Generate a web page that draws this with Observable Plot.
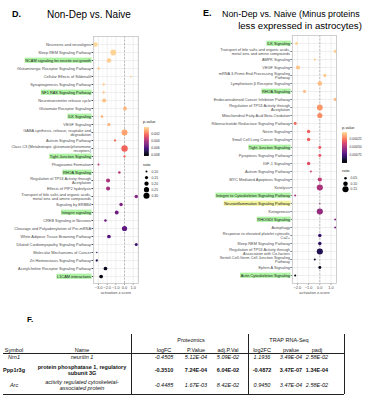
<!DOCTYPE html>
<html><head><meta charset="utf-8">
<script src="https://cdn.jsdelivr.net/npm/d3@7"></script>
<script src="https://cdn.jsdelivr.net/npm/@observablehq/plot@0.6"></script>
<style>
html,body{margin:0;padding:0;background:#fff;}
#fig{position:relative;width:365px;height:400px;overflow:hidden;font-family:"Liberation Sans",Arial,sans-serif;color:#000;}
.abs{position:absolute;white-space:nowrap;line-height:1;}
.cell{position:absolute;white-space:nowrap;transform:translate(-50%,-50%);text-align:center;line-height:1.15;font-family:"Liberation Sans",Arial,sans-serif;font-size:5.5px;color:#111;}
.lg{position:absolute;white-space:nowrap;font-size:3.8px;color:#222;line-height:1;}
</style></head><body><div id="fig"></div>
<script>
// ---------- Panel D data ----------
const leftLabels = [
  "Neurexins and neuroligins","Sleep REM Signaling Pathway","NCAM signaling for neurite out growth",
  "Glutaminergic Receptor Signaling Pathway","Cellular Effects of Sildenafil","Synaptogenesis Signaling Pathway",
  "NF1 RAS Signaling Pathway","Neurotransmitter release cycle","Glutamate Receptor Signaling","ILK Signaling",
  "VEGF Signaling","GABA synthesis, release, reuptake and\ndegradation","Autism Signaling Pathway",
  "Class C3 (Metabotropic glutamate/pheromone\nreceptors)","Tight Junction Signaling","Phagosome Formation",
  "RHOA Signaling","Regulation of TP53 Activity through\nAcetylation","Effects of PIP2 hydrolysis",
  "Transport of bile salts and organic acids,\nmetal ions and amine compounds","Signaling by ERBB4",
  "Integrin signaling","CREB Signaling in Neurons","Cleavage and Polyadenylation of Pre-mRNA",
  "White Adipose Tissue Browning Pathway","Dilated Cardiomyopathy Signaling Pathway",
  "Molecular Mechanisms of Cancer","Zn Homeostasis Signaling Pathway",
  "Acetylcholine Receptor Signaling Pathway","L1CAM interactions"];
const leftZ = [-3.35,-1.3,-1.8,-3.0,0.75,-2.4,-2.4,-2.35,0.05,-2.6,-1.8,0,-1.1,0,0,-3.0,-0.6,-1.9,-1.9,1.35,-0.4,-0.9,-2.2,0,-1.8,1.35,-3.2,-3.2,-2.2,-2.7];
const leftRatio = [0.22,0.28,0.21,0.12,0.09,0.11,0.11,0.19,0.18,0.12,0.15,0.29,0.11,0.32,0.11,0.1,0.12,0.19,0.19,0.16,0.16,0.18,0.12,0.25,0.17,0.14,0.08,0.11,0.17,0.17];
const leftP = [0.0003,0.0004,0.0005,0.0005,0.0006,0.0006,0.0007,0.0007,0.0009,0.001,0.001,0.0013,0.0022,0.0024,0.0025,0.0038,0.004,0.0042,0.0043,0.005,0.0052,0.0055,0.0056,0.0058,0.006,0.0065,0.0068,0.007,0.0078,0.008];
const leftGreen = ["NCAM signaling for neurite out growth","NF1 RAS Signaling Pathway","ILK Signaling","Tight Junction Signaling","RHOA Signaling","Integrin signaling","L1CAM interactions"];
const leftTicks = [-3,-2,-1,0,1];
const leftMinor = [-3.5,-2.5,-1.5,-0.5,0.5,1.5];
const leftPTicks = [0.002,0.004,0.006,0.008];
const leftRatioKeys = [0.10,0.15,0.20,0.25,0.30];

// ---------- Panel E data ----------
const rightLabels = [
  "ILK Signaling","Transport of bile salts and organic acids,\nmetal ions and amine compounds","AMPK Signaling",
  "VEGF Signaling","mRNA 3-Prime End Processing Signaling\nPathway","Lymphotoxin \u03b2 Receptor Signaling",
  "RHOA Signaling","Endocannabinoid Cancer Inhibition Pathway","Regulation of TP53 Activity through\nAcetylation",
  "Mitochondrial Fatty Acid Beta-Oxidation","Ribonucleotide Reductase Signaling Pathway","Netrin Signaling",
  "Small Cell Lung Cancer Signaling","Tight Junction Signaling","Pyroptosis Signaling Pathway","IGF-1 Signaling",
  "Autism Signaling Pathway","MYC Mediated Apoptosis Signaling","Ketolysis",
  "Integrin to Cytoskeleton Signaling Pathway","Neuroinflammation Signaling Pathway","Ketogenesis",
  "RHOGDI Signaling","Autophagy","Response to elevated platelet cytosolic\nCa2+","Sleep REM Signaling Pathway",
  "Regulation of TP53 Activity through\nAssociation with Co-factors","Sertoli Cell-Germ Cell Junction Signaling\nPathway",
  "Ephrin A Signaling","Actin Cytoskeleton Signaling"];
const rightZ = [-2.08,1.37,-0.45,-1.95,0.45,0,-1.37,1.37,0,0,-2.2,-1.0,-1.0,0,0,-1.0,-0.8,0,0,-2.2,0,0,1.37,1.37,0,0,0,-0.45,0,-2.2];
const rightRatio = [0.06,0.06,0.04,0.09,0.06,0.1,0.06,0.06,0.14,0.12,0.06,0.07,0.07,0.06,0.06,0.07,0.04,0.09,0.15,0.04,0.03,0.15,0.04,0.04,0.07,0.07,0.15,0.04,0.06,0.04];
const rightP = [0.00004,0.00005,0.00006,0.00007,0.00008,0.00009,0.0001,0.00011,0.00018,0.0002,0.00028,0.0003,0.0003,0.00032,0.00033,0.00036,0.0004,0.00045,0.0005,0.00052,0.00054,0.00056,0.0006,0.00062,0.0008,0.00082,0.00085,0.0009,0.00095,0.001];
const rightGreen = ["ILK Signaling","RHOA Signaling","Tight Junction Signaling","Integrin to Cytoskeleton Signaling Pathway","RHOGDI Signaling","Actin Cytoskeleton Signaling"];
const rightYellow = ["Neuroinflammation Signaling Pathway"];
const rightTicks = [-2,-1,0,1];
const rightMinor = [-2.5,-1.5,-0.5,0.5,1.5];
const rightPTicks = [0.00025,0.0005,0.00075];
const rightRatioKeys = [0.05,0.10,0.15];

// ---------- Panel F table data ----------
const tSymbols = ["Nrn1","Ppp1r3g","Arc"];
const tNames = ["neuritin 1","protein phosphatase 1, regulatory\nsubunit 3G","activity regulated cytoskeletal-\nassociated protein"];
const tLogFC = [-0.4505,-0.3510,-0.4485];
const tPValue = [5.12e-4,7.24e-4,1.67e-3];
const tAdjP = [5.09e-2,6.04e-2,8.42e-2];
const tLog2FC = [1.1936,-0.4872,0.9450];
const tPvalue2 = [3.49e-4,3.47e-7,3.47e-4];
const tPadj = [2.58e-2,1.34e-4,2.58e-2];
const tHeaders = ["Symbol","Name","logFC","P.Value","adj.P.Val","log2FC","pvalue","padj"];
const tStyles = ["italic","bold","italic"];

const fig = document.getElementById("fig");
const FONT = "'Liberation Sans', Arial, sans-serif";

function addDiv(cls, text, css) {
  const d = document.createElement("div");
  d.className = cls; d.textContent = text;
  Object.assign(d.style, css);
  fig.appendChild(d);
  return d;
}
function place(svg, left, top) {
  svg.style.position = "absolute"; svg.style.left = left + "px"; svg.style.top = top + "px";
  fig.appendChild(svg);
}

function dotPlot({labels, z, ratio, p, left, width, marginLeft, marginTop, xDomain, ticks, minor, color, r}) {
  const rows = labels.map((label, i) => ({label, z: z[i], ratio: ratio[i], p: p[i]}));
  const svg = Plot.plot({
    width, height: 300, marginLeft, marginRight: 2, marginTop, marginBottom: 17,
    style: {background: "transparent", fontFamily: FONT, fontSize: "3.9px", color: "#4d4d4d", overflow: "visible"},
    x: {domain: xDomain, ticks, tickSize: 1.5, tickPadding: 1, label: "activation z-score", labelAnchor: "center", labelOffset: 10, labelArrow: "none"},
    y: {type: "point", domain: labels, padding: 0.55, tickSize: 1.5, tickPadding: 1, label: null},
    r, color,
    marks: [
      Plot.frame({fill: "white"}),
      Plot.ruleX(minor, {stroke: "#f3f3f3", strokeWidth: 0.5}),
      Plot.ruleX(ticks, {stroke: "#e4e4e4", strokeWidth: 0.6}),
      Plot.ruleY(labels, {stroke: "#e4e4e4", strokeWidth: 0.6}),
      Plot.ruleX([0], {stroke: "#9a9a9a", strokeWidth: 0.6, strokeDasharray: "2,1.5"}),
      Plot.dot(rows, {x: "z", y: "label", r: "ratio", fill: "p"}),
      Plot.frame({stroke: "#bdbdbd", strokeWidth: 0.7})
    ]
  });
  place(svg, left, 0);
  return svg;
}

function highlight(svg, map) {
  svg.querySelectorAll("text").forEach(t => {
    const col = map.get(t.textContent);
    if (!col) return;
    const b = t.getBBox();
    const rc = document.createElementNS("http://www.w3.org/2000/svg", "rect");
    rc.setAttribute("x", b.x - 0.6); rc.setAttribute("y", b.y - 0.1);
    rc.setAttribute("width", b.width + 1.2); rc.setAttribute("height", b.height + 0.2);
    rc.setAttribute("fill", col); rc.setAttribute("stroke", "none");
    const tr = t.getAttribute("transform"); if (tr) rc.setAttribute("transform", tr);
    t.parentNode.insertBefore(rc, t);
    t.setAttribute("fill", "#1a1a1a");
  });
}

function colorBar({domain, ticks, fmt, left, top, width, height, mt, mb, ml, barW, color}) {
  const stops = d3.range(0, 61).map(i => domain[0] + (domain[1] - domain[0]) * i / 60);
  const svg = Plot.plot({
    width, height, marginTop: mt, marginBottom: mb, marginLeft: ml, marginRight: width - ml - barW,
    style: {background: "transparent", fontFamily: FONT, fontSize: "3.4px", color: "#333", overflow: "visible"},
    x: {axis: null},
    y: {domain, reverse: true, axis: "right", ticks, tickFormat: fmt, tickSize: 0, tickPadding: 2, label: null},
    color,
    marks: [Plot.ruleY(stops, {stroke: d => d, strokeWidth: 0.9})]
  });
  place(svg, left, top);
}

function sizeKey({keys, left, top, width, height, mt, mb, ml, r}) {
  const svg = Plot.plot({
    width, height, marginTop: mt, marginBottom: mb, marginLeft: ml, marginRight: 0,
    style: {background: "transparent", fontFamily: FONT, fontSize: "3.4px", color: "#333", overflow: "visible"},
    x: {domain: [0, 1], axis: null},
    y: {domain: [keys[0], keys[keys.length - 1]], reverse: true, axis: null},
    r,
    marks: [
      Plot.dot(keys, {x: () => 0, y: d => d, r: d => d, fill: "black"}),
      Plot.text(keys, {x: () => 0, y: d => d, text: d => d.toFixed(2), dx: 5, textAnchor: "start", fill: "#333"})
    ]
  });
  place(svg, left, top);
}

// Titles
addDiv("abs", "D.", {left: "12px", top: "10px", fontSize: "9px", fontWeight: "bold", fontFamily: "Arial, 'Liberation Sans', sans-serif"});
addDiv("abs", "Non-Dep vs. Naive", {left: "47px", top: "10px", fontSize: "10px"});
addDiv("abs", "E.", {left: "203px", top: "9px", fontSize: "9px", fontWeight: "bold"});
addDiv("abs", "Non-Dep vs. Naive (Minus proteins", {left: "222px", top: "9.5px", fontSize: "8.9px"});
addDiv("abs", "less expressed in astrocytes)", {left: "300px", top: "21px", fontSize: "9.6px", transform: "translateX(-50%)"});

// Panel D
const leftColor = {type: "linear", domain: [0.0003, 0.0083], interpolate: t => d3.interpolateMagma(0.92 * (1 - t))};
const leftR = {type: "pow", exponent: 0.5, domain: [0.08, 0.32], range: [0.7, 3.2]};
const svgD = dotPlot({labels: leftLabels, z: leftZ, ratio: leftRatio, p: leftP, left: 0, width: 140, marginLeft: 93, marginTop: 36,
  xDomain: [-3.58, 1.61], ticks: leftTicks, minor: leftMinor, color: leftColor, r: leftR});
highlight(svgD, new Map(leftGreen.map(k => [k, "#aef2a4"])));
addDiv("lg", "p-value", {left: "143px", top: "121px"});
colorBar({domain: leftColor.domain, ticks: leftPTicks, fmt: d => d.toFixed(3), left: 140, top: 118, width: 25, height: 40, mt: 9, mb: 3, ml: 4, barW: 4.7, color: leftColor});
addDiv("lg", "ratio", {left: "143px", top: "164px"});
sizeKey({keys: leftRatioKeys, left: 140, top: 162, width: 25, height: 38, mt: 9, mb: 4.7, ml: 6, r: leftR});

// Panel E
const rightColor = {type: "linear", domain: [0.00003, 0.001], interpolate: t => d3.interpolateMagma(0.92 * (1 - t))};
const rightR = {type: "pow", exponent: 0.5, domain: [0.03, 0.16], range: [0.7, 3.2]};
const svgE = dotPlot({labels: rightLabels, z: rightZ, ratio: rightRatio, p: rightP, left: 185, width: 153, marginLeft: 107, marginTop: 35,
  xDomain: [-2.44, 1.49], ticks: rightTicks, minor: rightMinor, color: rightColor, r: rightR});
highlight(svgE, new Map([...rightGreen.map(k => [k, "#aef2a4"]), ...rightYellow.map(k => [k, "#f3f39e"])]));
addDiv("lg", "p-value", {left: "342px", top: "127px"});
colorBar({domain: rightColor.domain, ticks: rightPTicks, fmt: d => d.toFixed(5), left: 338, top: 122, width: 27, height: 43, mt: 10, mb: 3, ml: 4, barW: 5, color: rightColor});
addDiv("lg", "ratio", {left: "342px", top: "170px"});
sizeKey({keys: rightRatioKeys, left: 338, top: 172, width: 27, height: 22, mt: 5.7, mb: 5.3, ml: 7, r: rightR});

// Panel F
addDiv("abs", "F.", {left: "27px", top: "316px", fontSize: "8px", fontWeight: "bold"});
const sci = v => { const [m, e] = v.toExponential(2).split("e"); const n = +e; return m + "E" + (n < 0 ? "-" : "+") + String(Math.abs(n)).padStart(2, "0"); };
const colX = [14, 82, 164, 196, 228, 262, 291, 317];
const rowY = [357, 369.5, 385];
addDiv("cell", "Proteomics", {left: "191px", top: "339.5px"});
addDiv("cell", "TRAP RNA-Seq", {left: "289px", top: "339.5px"});
tHeaders.forEach((h, j) => addDiv("cell", h, {left: colX[j] + "px", top: "349.5px"}));
tSymbols.forEach((s, i) => {
  const vals = [s, tNames[i], tLogFC[i].toFixed(4), sci(tPValue[i]), sci(tAdjP[i]), tLog2FC[i].toFixed(4), sci(tPvalue2[i]), sci(tPadj[i])];
  vals.forEach((v, j) => {
    const d = addDiv("cell", "", {left: colX[j] + "px", top: rowY[i] + "px"});
    d.innerHTML = v.split("\n").join("<br>");
    if (tStyles[i] === "bold") d.style.fontWeight = "bold"; else d.style.fontStyle = "italic";
  });
});
// table rules
const lines = [
  {left: 3, top: 352.8, width: 341, height: 0.6},
  {left: 3, top: 393.8, width: 341, height: 0.6},
  {left: 130.5, top: 334, width: 0.6, height: 60},
  {left: 248, top: 334, width: 0.6, height: 60},
  {left: 343.6, top: 334, width: 0.6, height: 60}
];
lines.forEach(l => addDiv("abs", "", {left: l.left + "px", top: l.top + "px", width: l.width + "px", height: l.height + "px", background: "#222"}));
</script></body></html>
